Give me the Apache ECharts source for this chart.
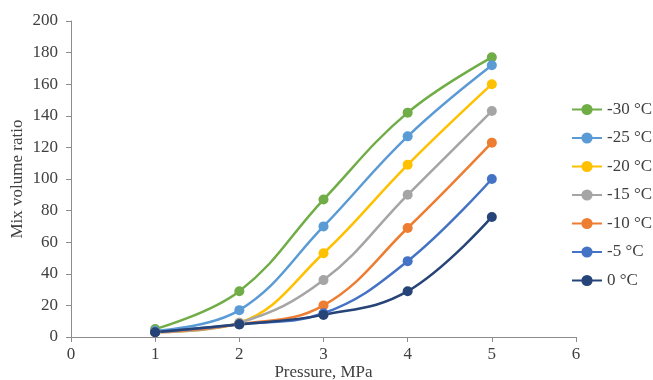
<!DOCTYPE html>
<html>
<head>
<meta charset="utf-8">
<script src="https://cdn.jsdelivr.net/npm/echarts@6/dist/echarts.min.js"></script>
<style>html,body{margin:0;padding:0;background:#fff}#c{width:653px;height:380px}</style>
</head>
<body>
<div id="c"></div>
<script>
const pressures = [1, 2, 3, 4, 5];
const seriesNames = ['-30 °C', '-25 °C', '-20 °C', '-15 °C', '-10 °C', '-5 °C', '0 °C'];
const s30 = [5, 29, 87, 142, 177];
const s25 = [4, 17, 70, 127, 172];
const s20 = [3, 9, 53, 109, 160];
const s15 = [3, 9, 36, 90, 143];
const s10 = [3, 8, 20, 69, 123];
const s5 = [3, 8, 15, 48, 100];
const s0 = [3, 8, 14, 29, 76];
const seriesValues = [s30, s25, s20, s15, s10, s5, s0];
const colors = ['#70AD47', '#5B9BD5', '#FFC000', '#A5A5A5', '#ED7D31', '#4472C4', '#264478'];

const font = 'Liberation Serif, Times New Roman, serif';
const chart = echarts.init(document.getElementById('c'), null, {renderer: 'canvas'});
chart.setOption({
  animation: false,
  color: colors,
  grid: {left: 71, right: 77, top: 21, bottom: 43, containLabel: false, outerBoundsMode: 'none'},
  legend: {
    orient: 'vertical', left: 566, top: 96,
    itemWidth: 30, itemHeight: 14, itemGap: 11.5,
    textStyle: {fontFamily: font, fontSize: 17, color: '#404040'},
    data: seriesNames
  },
  xAxis: {
    type: 'value', min: 0, max: 6, interval: 1,
    name: 'Pressure, MPa', nameLocation: 'middle', nameGap: 27, nameMoveOverlap: false,
    nameTextStyle: {fontFamily: font, fontSize: 17, color: '#404040'},
    axisLine: {show: true, lineStyle: {color: '#8c8c8c', width: 1}},
    axisTick: {show: true, length: 5, lineStyle: {color: '#8c8c8c'}},
    axisLabel: {fontFamily: font, fontSize: 17, color: '#404040', margin: 9},
    splitLine: {show: false}
  },
  yAxis: {
    type: 'value', min: 0, max: 200, interval: 20,
    name: 'Mix volume ratio', nameLocation: 'middle', nameGap: 45, nameMoveOverlap: false,
    nameTextStyle: {fontFamily: font, fontSize: 17, color: '#404040'},
    axisLine: {show: true, lineStyle: {color: '#8c8c8c', width: 1}},
    axisTick: {show: true, length: 5, lineStyle: {color: '#8c8c8c'}},
    axisLabel: {fontFamily: font, fontSize: 17, color: '#404040', margin: 13},
    splitLine: {show: false}
  },
  series: seriesNames.map((n, i) => ({
    name: n, type: 'line', smooth: 0.4,
    symbol: 'circle', symbolSize: 10,
    lineStyle: {width: 2.5, color: colors[i]},
    itemStyle: {color: colors[i]},
    data: pressures.map((p, j) => [p, seriesValues[i][j]])
  }))
});
</script>
</body>
</html>
